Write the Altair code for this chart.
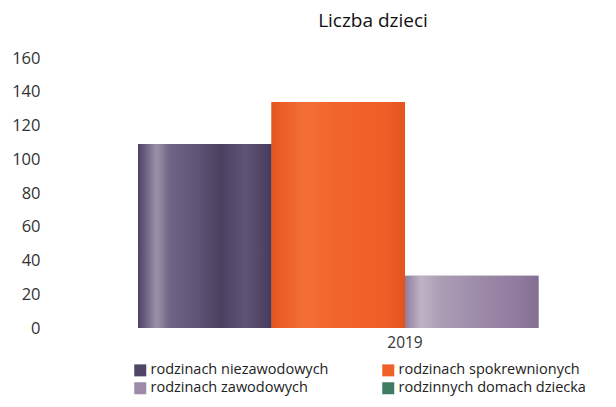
import altair as alt
import pandas as pd

categories = [
    "rodzinach niezawodowych",
    "rodzinach spokrewnionych",
    "rodzinach zawodowych",
    "rodzinnych domach dziecka",
]
values = [109, 134, 31, 0]
year = "2019"
colors = ["#4f4666", "#f0612a", "#9d8aa9", "#3f7b62"]
y_ticks = [0, 20, 40, 60, 80, 100, 120, 140, 160]

# shading of the bars (style only)
shades = [
    [(0, "#4d4263"), (0.06, "#6e6382"), (0.14, "#9b92a8"), (0.24, "#6f6484"),
     (0.45, "#5e5374"), (0.62, "#4a405f"), (0.8, "#5e5375"), (0.93, "#504567"), (1, "#43395a")],
    [(0, "#e6561f"), (0.25, "#f36f36"), (0.5, "#f1642b"), (0.85, "#ee5f28"), (1, "#e4541e")],
    [(0, "#8f7d9d"), (0.12, "#c0b3c6"), (0.25, "#ad9fb6"), (0.55, "#9d8ba9"),
     (0.85, "#8f7b9d"), (1, "#836f93")],
    [(0, "#2f6a50"), (0.3, "#5a9a7c"), (1, "#2f6a50")],
]

df = pd.DataFrame({"rok": [year] * len(categories), "kategoria": categories, "liczba": values})

FONT = "Open Sans"

x_enc = alt.X(
    "rok:N",
    scale=alt.Scale(range=[0, 534], paddingInner=0, paddingOuter=0),
    axis=alt.Axis(title=None, labelAngle=0, ticks=False, domain=False,
                  labelPadding=7, labelFontSize=15.5, labelColor="#333333", labelFont=FONT),
)
xo_enc = alt.XOffset("kategoria:N", scale=alt.Scale(domain=categories, paddingInner=0, paddingOuter=0))
y_enc = alt.Y(
    "liczba:Q",
    scale=alt.Scale(domain=[0, 160], nice=False),
    axis=alt.Axis(title=None, values=y_ticks, grid=False, domain=False, ticks=False,
                  labelPadding=98, labelFontSize=16.5, labelColor="#333333", labelFont=FONT),
)

base = alt.Chart(df).mark_bar().encode(
    x=x_enc,
    xOffset=xo_enc,
    y=y_enc,
    color=alt.Color(
        "kategoria:N",
        scale=alt.Scale(domain=categories, range=colors),
        legend=alt.Legend(
            title=None, orient="none", legendX=-5, legendY=305, columns=2,
            direction="horizontal",
            symbolType="square", symbolSize=144, symbolStrokeWidth=0,
            labelFontSize=14.5, labelFont=FONT, labelColor="#222222",
            columnPadding=52, rowPadding=3, labelOffset=3, labelLimit=300,
        ),
    ),
)

layers = [base]
for cat, stops in zip(categories, shades):
    grad = alt.LinearGradient(
        gradient="linear",
        stops=[alt.GradientStop(offset=o, color=c) for o, c in stops],
        x1=0, x2=1, y1=0, y2=0,
    )
    layers.append(
        alt.Chart(df)
        .transform_filter(alt.datum.kategoria == cat)
        .mark_bar(fill=grad)
        .encode(x=x_enc, xOffset=xo_enc, y=y_enc)
    )

chart = (
    alt.layer(*layers)
    .properties(
        width=470,
        height=270,
        autosize=alt.AutoSizeParams(type="none"),
        title=alt.TitleParams("Liczba dzieci", fontSize=19, fontWeight="normal", font=FONT,
                              color="#111111", anchor="middle", offset=19),
        padding={"left": 130, "top": 50, "right": 0, "bottom": 71},
    )
    .configure_view(stroke=None)
)

chart.save("out.html", embed_options={"renderer": "svg", "actions": False})
